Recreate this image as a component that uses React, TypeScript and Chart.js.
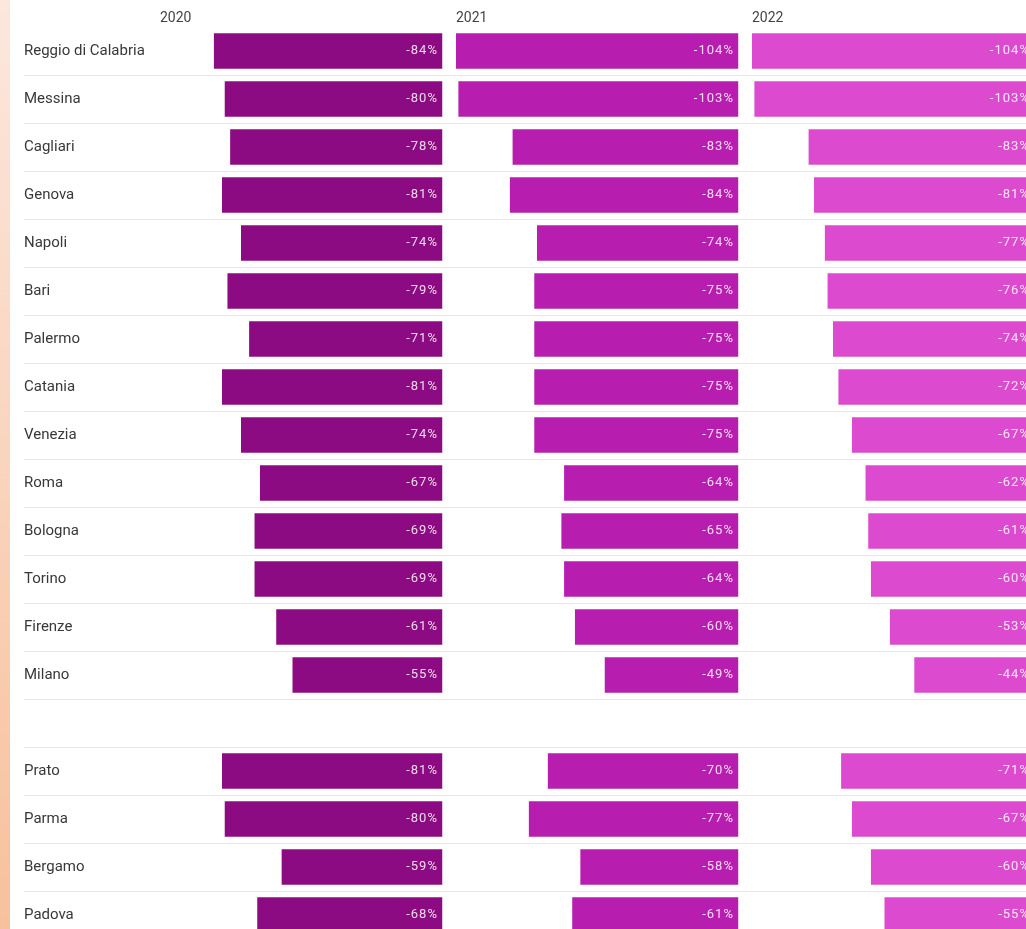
import React, { useEffect, useRef } from "react";
import { Chart, registerables } from "chart.js";

Chart.register(...registerables);

const cities: string[] = [
  "Reggio di Calabria", "Messina", "Cagliari", "Genova", "Napoli", "Bari", "Palermo",
  "Catania", "Venezia", "Roma", "Bologna", "Torino", "Firenze", "Milano", "",
  "Prato", "Parma", "Bergamo", "Padova",
];

const years: string[] = ["2020", "2021", "2022"];

const values2020: (number | null)[] = [-84, -80, -78, -81, -74, -79, -71, -81, -74, -67, -69, -69, -61, -55, null, -81, -80, -59, -68];
const values2021: (number | null)[] = [-104, -103, -83, -84, -74, -75, -75, -75, -75, -64, -65, -64, -60, -49, null, -70, -77, -58, -61];
const values2022: (number | null)[] = [-104, -103, -83, -81, -77, -76, -74, -72, -67, -62, -61, -60, -53, -44, null, -71, -67, -60, -55];

const colors: string[] = ["#8C0B82", "#B71DAE", "#DC4BCF"];

const axisMin = -104;
const axisMax = 5.2;

const separatorPlugin = {
  id: "separators",
  beforeDatasetsDraw(chart: any) {
    const y = chart.scales.y;
    const ctx = chart.ctx;
    const n = cities.length;
    const step = y.getPixelForValue(1) - y.getPixelForValue(0);
    ctx.save();
    ctx.strokeStyle = "#e8e8e8";
    ctx.lineWidth = 1;
    for (let i = 0; i < n; i++) {
      const py = Math.round(y.getPixelForValue(i) + step / 2) + 0.5;
      ctx.beginPath();
      ctx.moveTo(24, py);
      ctx.lineTo(chart.width, py);
      ctx.stroke();
    }
    ctx.restore();
  },
};

const valueLabelPlugin = {
  id: "valueLabels",
  afterDatasetsDraw(chart: any) {
    const ctx = chart.ctx;
    ctx.save();
    ctx.font = "13px Roboto";
    (ctx as any).letterSpacing = "1px";
    ctx.fillStyle = "rgba(255,255,255,0.85)";
    ctx.textAlign = "right";
    ctx.textBaseline = "middle";
    chart.data.datasets.forEach((ds: any, di: number) => {
      const meta = chart.getDatasetMeta(di);
      meta.data.forEach((el: any, i: number) => {
        const v = ds.data[i];
        if (v === null || v === undefined) return;
        ctx.fillText(`${v}%`, el.base - 4, el.y);
      });
    });
    (ctx as any).letterSpacing = "0px";
    ctx.restore();
  },
};

function xAxis(title: string, weight: number) {
  return {
    type: "linear" as const,
    position: "top" as const,
    stack: "years",
    stackWeight: 1,
    weight,
    min: axisMin,
    max: axisMax,
    ticks: { display: false },
    grid: { display: false, drawTicks: false, tickLength: 0 },
    border: { display: false },
    title: {
      display: true,
      text: title,
      align: "start" as const,
      color: "#444",
      font: { size: 14, family: "Roboto" },
      padding: { top: 10.4, bottom: 0 },
    },
    afterFit(scale: any) {
      scale.height = 27;
      scale.paddingLeft = 0;
      scale.paddingRight = 0;
    },
  };
}

export default function App() {
  const canvasRef = useRef<HTMLCanvasElement | null>(null);

  useEffect(() => {
    document.documentElement.style.overflow = "hidden";
    document.body.style.overflow = "hidden";
    const canvas = canvasRef.current;
    if (!canvas) return;
    Chart.defaults.font.family = "Roboto";
    const series = [values2020, values2021, values2022];
    const chart = new Chart(canvas, {
      type: "bar",
      data: {
        labels: cities,
        datasets: series.map((vals, i) => ({
          label: years[i],
          data: vals,
          backgroundColor: colors[i],
          borderWidth: 0,
          barThickness: 35,
          grouped: false,
          xAxisID: "x" + (i + 1),
          yAxisID: "y",
        })),
      },
      options: {
        indexAxis: "y",
        animation: false,
        responsive: true,
        maintainAspectRatio: false,
        events: [],
        layout: { padding: { left: 24, right: 0, top: 0, bottom: 0 } },
        plugins: {
          legend: { display: false },
          tooltip: { enabled: false },
        },
        scales: {
          x1: xAxis(years[0], 3),
          x2: xAxis(years[1], 2),
          x3: xAxis(years[2], 1),
          y: {
            type: "category",
            position: "left",
            grid: { display: false, drawTicks: false, tickLength: 0 },
            border: { display: false },
            ticks: {
              autoSkip: false,
              crossAlign: "far",
              padding: 0,
              color: "#383838",
              font: { size: 15, family: "Roboto" },
            },
            afterFit(scale: any) {
              scale.width = 136;
              scale.paddingTop = 0;
              scale.paddingBottom = 0;
            },
          },
        },
      } as any,
      plugins: [separatorPlugin, valueLabelPlugin],
    });
    return () => chart.destroy();
  }, []);

  return (
    <div
      style={{
        position: "absolute",
        left: 0,
        top: 0,
        width: 1026,
        height: 929,
        overflow: "hidden",
        background: "#ffffff",
      }}
    >
      <div
        style={{
          position: "absolute",
          left: 0,
          top: 0,
          width: 10,
          height: 929,
          background: "linear-gradient(to bottom, #FCE7DD, #F7C19C)",
        }}
      />
      <div style={{ position: "absolute", left: 0, top: 0, width: 1048, height: 939 }}>
        <canvas ref={canvasRef} style={{ display: "block" }} />
      </div>
    </div>
  );
}
